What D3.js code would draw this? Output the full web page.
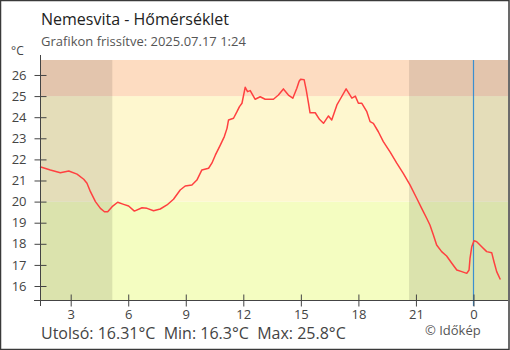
<!DOCTYPE html>
<html>
<head>
<meta charset="utf-8">
<script src="https://cdn.jsdelivr.net/npm/d3@7/dist/d3.min.js"></script>
<style>
  html, body { margin: 0; padding: 0; background: #fff; }
  svg { display: block; font-family: "Open Sans", "Noto Sans", sans-serif; }
</style>
</head>
<body>
<svg id="chart" width="510" height="350"></svg>
<script>
// Hours since 2025.07.16 00:00 and the measured temperature (°C)
const hours = [
  1.40, 1.94, 2.46, 2.90, 3.33, 3.68, 3.85, 4.03, 4.29, 4.55,
  4.76, 4.93, 5.16, 5.45, 5.76, 6.02, 6.32, 6.72, 6.98, 7.32,
  7.67, 8.02, 8.36, 8.71, 8.97, 9.32, 9.58, 9.84, 10.19, 10.36,
  10.54, 10.80, 11.01, 11.15, 11.23, 11.49, 11.67, 11.80, 11.93, 12.10,
  12.22, 12.36, 12.62, 12.88, 13.14, 13.57, 13.83, 14.09, 14.35, 14.58,
  14.79, 14.91, 14.99, 15.17, 15.28, 15.40, 15.48, 15.75, 15.97, 16.18,
  16.44, 16.61, 16.88, 17.05, 17.36, 17.66, 17.84, 18.00, 18.18, 18.44,
  18.61, 18.78, 19.04, 19.30, 19.65, 20.00, 20.34, 20.69, 21.04, 21.30,
  21.56, 21.73, 21.91, 22.08, 22.34, 22.60, 22.87, 23.13, 23.39, 23.65,
  23.77, 23.82, 23.91, 24.03, 24.17, 24.43, 24.69, 24.95, 25.07, 25.21,
  25.40
];
const temps = [
  21.65, 21.50, 21.37, 21.45, 21.30, 21.06, 20.87, 20.47, 20.00, 19.68,
  19.52, 19.52, 19.76, 19.97, 19.87, 19.79, 19.55, 19.71, 19.68, 19.57,
  19.65, 19.84, 20.11, 20.55, 20.74, 20.79, 21.02, 21.50, 21.58, 21.82,
  22.20, 22.68, 23.08, 23.47, 23.87, 23.95, 24.26, 24.50, 24.66, 25.42,
  25.21, 25.26, 24.85, 24.97, 24.85, 24.85, 25.05, 25.34, 25.05, 24.90,
  25.37, 25.70, 25.80, 25.78, 25.29, 24.66, 24.21, 24.21, 23.90, 23.71,
  24.06, 23.87, 24.58, 24.85, 25.34, 24.90, 25.00, 24.66, 24.66, 24.26,
  23.79, 23.71, 23.31, 22.84, 22.36, 21.82, 21.34, 20.79, 20.16, 19.68,
  19.21, 18.89, 18.42, 17.94, 17.63, 17.42, 17.08, 16.76, 16.68, 16.60,
  16.76, 17.31, 17.86, 18.15, 18.10, 17.86, 17.63, 17.58, 17.15, 16.68,
  16.31
];

// Axis ticks
const xTickHours = [3, 6, 9, 12, 15, 18, 21, 24];
const xTickLabels = ["3", "6", "9", "12", "15", "18", "21", "0"];
const yTicks = [16, 17, 18, 19, 20, 21, 22, 23, 24, 25, 26];

// Temperature zones and night periods
const zoneBreaks = [20, 25];
const zoneColors = ["#f4fdc1", "#fef7cf", "#fddcc1"];
const nightStarts = [1.40, 20.64];
const nightEnds = [5.17, 25.80];
const midnight = [24];

const title = "Nemesvita - Hőmérséklet";
const subtitle = "Grafikon frissítve: 2025.07.17 1:24";

const svg = d3.select("#chart");
const W = 510, H = 350;
const plotL = 40, plotR = 508, plotT = 60, plotB = 300;

const x = d3.scaleLinear().domain([1.40, 25.80]).range([plotL, plotR]);
const y = d3.scaleLinear().domain([15.337, 26.71]).range([plotB, plotT]);

const data = hours.map((h, i) => ({ h, t: temps[i] }));

// Outer frame
svg.append("rect")
  .attr("x", 0.5).attr("y", 0.5)
  .attr("width", W - 1.5).attr("height", H - 1)
  .attr("fill", "none").attr("stroke", "#3a3a3a").attr("stroke-width", 1.5);

// Titles
svg.append("text").attr("x", 41).attr("y", 25)
  .attr("font-size", 16).attr("fill", "#222").text(title);
svg.append("text").attr("x", 41).attr("y", 46)
  .attr("font-size", 13).attr("fill", "#555").text(subtitle);
svg.append("text").attr("x", 11).attr("y", 55)
  .attr("font-size", 12).attr("fill", "#444").text("°C");

// Temperature zones
const zoneEdges = [y.domain()[0], ...zoneBreaks, y.domain()[1]];
svg.append("g").selectAll("rect")
  .data(zoneColors)
  .join("rect")
  .attr("x", plotL)
  .attr("width", plotR - plotL)
  .attr("y", (d, i) => y(zoneEdges[i + 1]))
  .attr("height", (d, i) => y(zoneEdges[i]) - y(zoneEdges[i + 1]))
  .attr("fill", d => d);

// Night shading
svg.append("g").selectAll("rect")
  .data(nightStarts)
  .join("rect")
  .attr("x", d => x(d))
  .attr("width", (d, i) => x(nightEnds[i]) - x(d))
  .attr("y", plotT)
  .attr("height", plotB - plotT)
  .attr("fill", "#000")
  .attr("fill-opacity", 0.1);

// Midnight marker
svg.append("g").selectAll("line")
  .data(midnight)
  .join("line")
  .attr("x1", d => Math.round(x(d)) + 0.5).attr("x2", d => Math.round(x(d)) + 0.5)
  .attr("y1", plotT).attr("y2", plotB + 6)
  .attr("stroke", "#3b8fd0").attr("stroke-width", 1.2);

// Temperature line
svg.append("path")
  .datum(data)
  .attr("fill", "none")
  .attr("stroke", "#ff4040")
  .attr("stroke-width", 1.5)
  .attr("stroke-linejoin", "round")
  .attr("d", d3.line().x(d => x(d.h)).y(d => y(d.t)));

// Y axis
const yAxis = svg.append("g")
  .attr("transform", `translate(${plotL + 0.5},0)`)
  .call(d3.axisLeft(y).tickValues(yTicks).tickSize(0).tickPadding(14).tickFormat(d3.format("d")));
yAxis.select(".domain").remove();
yAxis.selectAll("text").attr("font-size", 13).attr("fill", "#444").attr("font-family", "Open Sans");
yAxis.selectAll(".tick").append("line")
  .attr("x1", -6).attr("x2", 6).attr("stroke", "#444");
svg.append("line")
  .attr("x1", plotL + 0.5).attr("x2", plotL + 0.5)
  .attr("y1", 55).attr("y2", plotB + 6)
  .attr("stroke", "#444");

// X axis
const xAxis = svg.append("g")
  .attr("transform", `translate(0,${plotB + 0.5})`)
  .call(d3.axisBottom(x).tickValues(xTickHours).tickSize(0).tickPadding(9)
    .tickFormat((d, i) => xTickLabels[i]));
xAxis.select(".domain").remove();
xAxis.selectAll("text").attr("font-size", 13).attr("fill", "#444").attr("font-family", "Open Sans");
xAxis.selectAll(".tick").append("line")
  .attr("y1", -6).attr("y2", 6).attr("stroke", "#444");
svg.append("line")
  .attr("x1", 34).attr("x2", plotR)
  .attr("y1", plotB + 0.5).attr("y2", plotB + 0.5)
  .attr("stroke", "#444");

// Summary
const fmt2 = d3.format(".2f"), fmt1 = d3.format(".1f");
const last = temps[temps.length - 1];
const summary = `Utolsó: ${fmt2(last)}°C\u00a0\u00a0Min: ${fmt1(d3.min(temps))}°C\u00a0\u00a0Max: ${fmt1(d3.max(temps))}°C`;
svg.append("text").attr("x", 41).attr("y", 339)
  .attr("font-size", 16).attr("fill", "#444").text(summary);
svg.append("text").attr("x", 425).attr("y", 335)
  .attr("font-size", 13).attr("fill", "#555").text("© Időkép");
</script>
</body>
</html>
